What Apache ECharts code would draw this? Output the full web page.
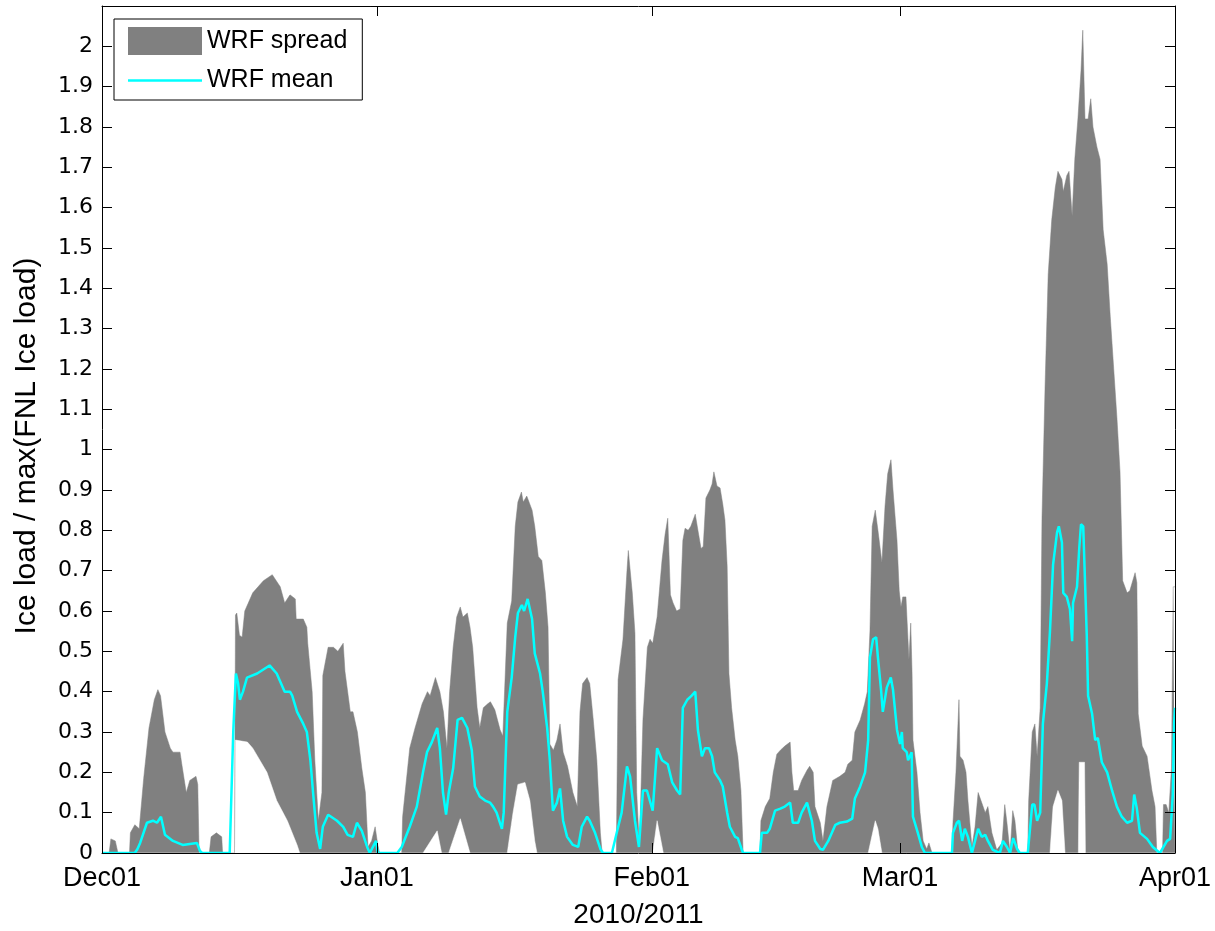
<!DOCTYPE html>
<html>
<head>
<meta charset="utf-8">
<title>WRF ice load</title>
<script src="https://cdn.jsdelivr.net/npm/echarts@6/dist/echarts.min.js"></script>
<style>
  html, body { margin: 0; padding: 0; background: #fff; }
  #chart { width: 1215px; height: 931px; }
</style>
</head>
<body>
<div id="chart"></div>
<script>
// x = days since Dec01 2010
const tickDays = [0, 31, 62, 90, 121];
const tickLabels = ['Dec01', 'Jan01', 'Feb01', 'Mar01', 'Apr01'];

// upper edge of the WRF spread
const hiDays = [0, 0.8, 1.0, 1.5, 1.8, 3.1, 3.2, 3.7, 4.2, 4.7, 5.3, 5.9, 6.3, 6.6, 7.1, 7.7, 8.0, 8.8, 9.0, 9.5, 9.9, 10.6, 10.8, 10.95,
  12.1, 12.3, 12.9, 13.5, 13.6, 14.95, 15.05, 15.2, 15.5, 15.8, 16.1, 17.0, 18.2, 19.2, 20.1, 20.6, 21.2, 21.8, 21.9, 22.7, 23.1, 23.2, 23.7, 24.0, 24.4, 24.8,
  24.9, 25.5, 26.1, 26.6, 27.2, 27.4, 28.0, 28.3, 28.8, 29.3, 29.7, 30.0, 30.4, 30.8, 31.1, 31.3,
  33.8, 33.9, 34.7, 35.3, 36.1, 36.7, 37.0, 37.6, 38.1, 38.5, 38.9, 39.2, 39.6, 40.0, 40.4, 40.7, 41.2, 41.5, 41.8, 42.3, 42.6, 43.0, 43.5, 43.8,
  44.3, 44.9, 45.2, 45.7, 46.2, 46.6, 46.9, 47.3, 47.5, 47.9, 48.5, 48.8, 49.2, 49.6, 50.0, 50.3, 50.5, 50.9, 51.3, 51.65, 52.0, 52.5, 53.1, 53.6,
  53.9, 54.2, 54.7, 55.0, 55.4, 55.8, 56.2, 56.4, 58.0, 58.2, 58.75, 59.2, 59.35, 59.8, 60.1, 60.3, 60.6, 61.0, 61.5, 61.8, 62.1, 62.6, 63.15, 63.5,
  63.8, 64.1, 64.4, 64.8, 65.2, 65.5, 65.75, 66.1, 66.4, 66.9, 67.2, 67.55, 67.8, 68.1, 68.55, 68.8, 69.0, 69.35, 69.7, 70.0, 70.25, 70.5, 70.7,
  71.0, 71.4, 71.7, 72.05, 72.3, 74.2, 74.3, 74.8, 75.3, 75.7, 76.1, 76.5, 77.0, 77.6, 77.8, 78.0, 78.5, 78.9, 79.5, 79.8, 80.2, 80.4, 81.0, 81.3,
  81.75, 82.4, 83.2, 83.8, 84.1, 84.6, 84.9, 85.5, 86.0, 86.3, 86.6, 86.85, 87.2, 87.5, 87.95, 88.3, 88.6, 88.97, 89.2, 89.65, 89.9, 90.1, 90.3,
  90.66, 90.8, 91.0, 91.2, 91.35, 91.45, 91.9, 92.25, 92.6, 93.0, 93.25, 93.6, 95.85, 95.96, 96.3, 96.64, 96.75, 97.1, 97.43, 97.65, 98.1, 98.45,
  98.8, 99.2, 99.6, 99.9, 100.35, 100.9, 101.5, 101.8, 102.05, 102.4, 102.7, 102.95, 103.3, 104.4, 104.5, 104.9, 105.2, 105.45, 105.8, 106.0,
  106.35, 106.7, 107.1, 107.5, 107.8, 108.25, 108.4, 108.8, 109.05, 109.4, 109.7, 110.05, 110.4, 110.6, 110.85, 111.2, 111.5, 111.75, 112.2,
  112.55, 112.9, 113.35, 113.7, 114.0, 114.45, 114.8, 115.1, 115.6, 115.9, 116.5, 116.7, 116.85, 117.3, 117.85, 118.4, 118.75, 118.95, 119.6,
  119.7, 120.0, 120.3, 120.6, 120.8, 121];
const hiVals = [0, 0, 0.035, 0.03, 0, 0, 0.05, 0.07, 0.06, 0.185, 0.31, 0.38, 0.405, 0.39, 0.30, 0.26, 0.25, 0.25, 0.22, 0.15, 0.18, 0.19, 0.17, 0,
  0, 0.04, 0.05, 0.04, 0, 0, 0.59, 0.595, 0.54, 0.535, 0.60, 0.645, 0.675, 0.69, 0.66, 0.62, 0.64, 0.63, 0.58, 0.58, 0.56, 0.52, 0.40, 0.23, 0.08, 0.15,
  0.44, 0.51, 0.51, 0.50, 0.52, 0.45, 0.35, 0.35, 0.30, 0.21, 0.15, 0.015, 0.03, 0.065, 0.02, 0,
  0, 0.09, 0.26, 0.31, 0.37, 0.40, 0.39, 0.435, 0.40, 0.35, 0.26, 0.40, 0.51, 0.585, 0.61, 0.585, 0.595, 0.56, 0.51, 0.36, 0.31, 0.36, 0.37, 0.375,
  0.355, 0.305, 0.29, 0.57, 0.625, 0.81, 0.87, 0.895, 0.87, 0.885, 0.85, 0.81, 0.735, 0.725, 0.645, 0.56, 0.27, 0.255, 0.28, 0.32, 0.25, 0.215, 0.15, 0.115,
  0.35, 0.42, 0.435, 0.42, 0.33, 0.23, 0.05, 0, 0, 0.43, 0.53, 0.70, 0.75, 0.645, 0.545, 0.15, 0.015, 0.33, 0.51, 0.53, 0.52, 0.585, 0.725, 0.79,
  0.83, 0.64, 0.62, 0.60, 0.605, 0.775, 0.805, 0.80, 0.81, 0.84, 0.80, 0.755, 0.76, 0.88, 0.90, 0.915, 0.945, 0.91, 0.905, 0.865, 0.825, 0.71, 0.445,
  0.36, 0.28, 0.24, 0.155, 0, 0, 0.08, 0.115, 0.135, 0.20, 0.245, 0.255, 0.265, 0.275, 0.20, 0.155, 0.155, 0.18, 0.205, 0.215, 0.20, 0.115, 0.075, 0.03,
  0.115, 0.18, 0.19, 0.20, 0.22, 0.23, 0.30, 0.33, 0.37, 0.40, 0.55, 0.81, 0.85, 0.80, 0.72, 0.86, 0.94, 0.975, 0.90, 0.775, 0.65, 0.61, 0.635,
  0.635, 0.57, 0.48, 0.57, 0.445, 0.28, 0.20, 0.10, 0.03, 0.01, 0.025, 0, 0, 0.075, 0.20, 0.38, 0.24, 0.23, 0.20, 0.13, 0.015, 0.065,
  0.15, 0.125, 0.10, 0.115, 0.05, 0.008, 0.025, 0.12, 0.075, 0, 0.105, 0.08, 0, 0, 0.13, 0.30, 0.32, 0.24, 0.36, 0.83,
  1.16, 1.435, 1.57, 1.65, 1.69, 1.67, 1.64, 1.68, 1.69, 1.58, 1.72, 1.82, 1.94, 2.04, 1.82, 1.82, 1.87, 1.80, 1.75,
  1.72, 1.545, 1.46, 1.33, 1.23, 1.08, 0.945, 0.675, 0.645, 0.65, 0.695, 0.67, 0.345, 0.265, 0.24, 0.155, 0.115, 0, 0,
  0.12, 0.12, 0.10, 0.21, 0.66, 0.66];

// lower edge of the WRF spread (zero almost everywhere)
const loDays = [0, 15.0, 15.05, 16.4, 17.0, 18.6, 19.7, 20.9, 22.0, 22.3, 36.2, 37.8, 38.3, 39.1, 40.4, 41.5, 45.7, 46.35, 46.9, 47.7, 48.25,
  48.8, 49.05, 62.1, 62.6, 63.3, 86.4, 87.2, 87.5, 87.95, 106.9, 107.25, 107.8, 108.25, 108.6, 110.1, 110.2, 110.8, 110.9, 121];
const loVals = [0, 0, 0.28, 0.275, 0.26, 0.20, 0.13, 0.08, 0.02, 0, 0, 0.055, 0, 0, 0.085, 0, 0, 0.10, 0.17, 0.175, 0.13,
  0.03, 0, 0, 0.08, 0, 0, 0.08, 0.06, 0, 0, 0.115, 0.155, 0.13, 0, 0, 0.225, 0.225, 0, 0];

// WRF ensemble mean
const meanDays = [0, 3.7, 4.0, 4.3, 5.07, 5.75, 6.2, 6.65, 7.1, 8.0, 9.1, 10.7, 11.05, 11.3, 14.4, 14.8, 15.1, 15.35, 15.55, 15.9, 16.35, 17.5,
  18.2, 18.9, 19.7, 20.6, 21.2, 21.45, 22.0, 22.7, 23.1, 23.5, 23.8, 24.2, 24.6, 24.9, 25.5, 26.5, 27.2, 27.7, 28.3, 28.75, 29.3, 29.9, 30.2,
  30.9, 31.1, 33.3, 33.8, 34.7, 35.5, 36.2, 36.65, 37.2, 37.8, 38.1, 38.45, 38.8, 39.1, 39.6, 40.1, 40.6, 41.2, 41.7, 42.05, 42.6, 43.2, 43.75,
  44.1, 44.5, 45.1, 45.3, 45.7, 46.2, 46.6, 46.9, 47.35, 47.6, 48.0, 48.5, 48.8, 49.4, 49.7, 50.2, 50.5, 50.85, 51.3, 51.65, 52.0, 52.45, 53.1,
  53.7, 54.1, 54.7, 55.0, 55.6, 56.2, 56.5, 57.5, 58.1, 58.6, 59.2, 59.55, 60.1, 60.55, 61.0, 61.45, 62.1, 62.6, 63.15, 63.8, 64.3, 64.85, 65.2,
  65.5, 66.0, 66.5, 66.9, 67.2, 67.65, 68.0, 68.45, 68.8, 69.1, 69.7, 70.0, 70.5, 70.8, 71.4, 71.7, 72.15, 72.3, 74.2, 74.4, 75.0, 75.3, 75.9,
  76.5, 77.0, 77.6, 77.9, 78.5, 78.9, 79.5, 80.05, 80.4, 81.0, 81.3, 81.9, 82.7, 83.2, 84.0, 84.6, 84.9, 85.5, 86.05, 86.4, 86.6, 86.95, 87.3,
  87.5, 87.85, 88.05, 88.5, 88.95, 89.2, 89.65, 90.0, 90.2, 90.3, 90.75, 90.9, 91.3, 91.45, 92.0, 92.45, 92.8, 95.85, 95.96, 96.4, 96.65, 97.0,
  97.3, 97.65, 98.1, 98.45, 98.8, 99.2, 99.6, 99.9, 100.45, 101.25, 101.6, 102.05, 102.4, 102.75, 103.2, 103.5, 104.4, 104.9, 105.15, 105.45,
  105.8, 106.1, 106.55, 106.9, 107.25, 107.7, 107.9, 108.25, 108.4, 108.8, 109.15, 109.4, 109.5, 109.95, 110.2, 110.4, 110.65, 110.85, 111.05,
  111.2, 111.65, 112.0, 112.3, 112.75, 113.35, 113.9, 114.45, 115.0, 115.6, 116.15, 116.4, 116.7, 117.05, 117.85, 118.5, 119.3, 120.1, 120.45,
  120.75, 120.9, 121];
const meanVals = [0, 0, 0.01, 0.025, 0.075, 0.08, 0.075, 0.09, 0.045, 0.03, 0.02, 0.025, 0.005, 0, 0, 0.30, 0.445, 0.42, 0.38, 0.40, 0.435, 0.445,
  0.455, 0.465, 0.445, 0.40, 0.40, 0.39, 0.35, 0.32, 0.30, 0.23, 0.15, 0.05, 0.01, 0.065, 0.095, 0.08, 0.065, 0.045, 0.04, 0.075, 0.055, 0.015, 0,
  0.03, 0, 0, 0.015, 0.065, 0.115, 0.20, 0.25, 0.275, 0.31, 0.26, 0.15, 0.095, 0.15, 0.21, 0.33, 0.335, 0.31, 0.255, 0.165, 0.14, 0.13, 0.125,
  0.115, 0.10, 0.06, 0.10, 0.35, 0.435, 0.535, 0.595, 0.615, 0.60, 0.63, 0.58, 0.495, 0.445, 0.40, 0.31, 0.23, 0.105, 0.125, 0.16, 0.08, 0.04, 0.02,
  0.015, 0.065, 0.09, 0.08, 0.05, 0.01, 0, 0, 0.055, 0.10, 0.215, 0.19, 0.08, 0.015, 0.155, 0.155, 0.105, 0.26, 0.23, 0.22, 0.175, 0.155, 0.145,
  0.36, 0.38, 0.39, 0.40, 0.305, 0.24, 0.26, 0.26, 0.24, 0.20, 0.18, 0.165, 0.10, 0.065, 0.04, 0.037, 0.008, 0, 0, 0.05, 0.05, 0.06, 0.105,
  0.11, 0.115, 0.125, 0.075, 0.075, 0.10, 0.125, 0.08, 0.03, 0.01, 0.008, 0.03, 0.07, 0.075, 0.078, 0.085, 0.135, 0.165, 0.20, 0.28, 0.485, 0.53, 0.535,
  0.485, 0.405, 0.35, 0.41, 0.435, 0.405, 0.305, 0.27, 0.30, 0.26, 0.25, 0.23, 0.25, 0.09, 0.05, 0.015, 0, 0, 0.05, 0.075, 0.08, 0.03,
  0.06, 0.04, 0, 0.03, 0.06, 0.04, 0.045, 0.03, 0.008, 0, 0.03, 0.015, 0, 0.037, 0.01, 0, 0, 0.12, 0.12, 0.08,
  0.10, 0.32, 0.42, 0.55, 0.715, 0.795, 0.81, 0.77, 0.645, 0.635, 0.605, 0.525, 0.62, 0.66, 0.755, 0.815, 0.81, 0.675, 0.54,
  0.39, 0.345, 0.28, 0.285, 0.225, 0.20, 0.155, 0.115, 0.09, 0.075, 0.08, 0.145, 0.11, 0.05, 0.035, 0.015, 0, 0.03, 0.035,
  0.145, 0.32, 0.36];

function zip(xs, ys) {
    return xs.map((x, i) => [x, ys[i]]);
}

const tickFont = 'DejaVu Sans';
const labelFont = 'Liberation Sans';

// box axes: ticks point into the plot, lines stay on the frame
const xBase = {
    type: 'value',
    min: 0,
    max: 121,
    axisLine: { onZero: false, lineStyle: { color: '#000', width: 1 } },
    axisTick: { inside: true, length: 10, customValues: tickDays, lineStyle: { color: '#000' } },
    splitLine: { show: false },
    z: 10
};
const yBase = {
    type: 'value',
    min: 0,
    max: 2.1,
    interval: 0.1,
    axisLine: { show: true, onZero: false, lineStyle: { color: '#000', width: 1 } },
    axisTick: { show: true, inside: true, length: 10, lineStyle: { color: '#000' } },
    splitLine: { show: false },
    z: 10
};

const chart = echarts.init(document.getElementById('chart'));
chart.setOption({
    animation: false,
    backgroundColor: '#fff',
    grid: { left: 102, right: 40, top: 6, bottom: 78, containLabel: false, outerBoundsMode: 'none' },
    legend: {
        left: 114,
        top: 19,
        orient: 'vertical',
        padding: [8, 15, 7, 14],
        itemWidth: 74,
        itemHeight: 28,
        itemGap: 13,
        backgroundColor: '#fff',
        borderColor: '#000',
        borderWidth: 1,
        selectedMode: false,
        textStyle: { fontSize: 25, fontFamily: labelFont, color: '#000' },
        data: [
            { name: 'WRF spread', icon: 'rect' },
            { name: 'WRF mean', icon: 'path://M0,0L74,0L74,2.5L0,2.5Z', itemStyle: { color: '#00ffff' } }
        ],
        z: 20
    },
    graphic: [{
        type: 'text',
        x: 27,
        y: 446,
        rotation: Math.PI / 2,
        style: {
            text: 'Ice load / max(FNL Ice load)',
            fontSize: 30,
            fontFamily: labelFont,
            fill: '#000',
            align: 'center',
            verticalAlign: 'middle'
        },
        z: 30
    }],
    xAxis: [
        Object.assign({}, xBase, {
            position: 'bottom',
            name: '2010/2011',
            nameLocation: 'middle',
            nameGap: 48,
            nameTextStyle: { fontSize: 28, fontFamily: labelFont, color: '#000' },
            axisLabel: {
                customValues: tickDays,
                margin: 12,
                fontSize: 27,
                fontFamily: labelFont,
                color: '#000',
                formatter: v => tickLabels[tickDays.indexOf(v)]
            }
        }),
        Object.assign({}, xBase, { position: 'top', axisLabel: { show: false } })
    ],
    yAxis: [
        Object.assign({}, yBase, {
            position: 'left',
            axisLabel: { margin: 9, fontSize: 22, fontFamily: tickFont, color: '#000', showMaxLabel: false }
        }),
        Object.assign({}, yBase, { position: 'right', axisLabel: { show: false } })
    ],
    series: [
        {
            name: 'WRF spread',
            type: 'line',
            data: zip(hiDays, hiVals),
            symbol: 'none',
            color: '#808080',
            lineStyle: { width: 0.5, color: '#808080' },
            areaStyle: { color: '#808080', opacity: 1 },
            z: 2
        },
        {
            name: 'lower',
            type: 'line',
            data: zip(loDays, loVals),
            symbol: 'none',
            color: '#fff',
            lineStyle: { width: 0.5, color: '#fff' },
            areaStyle: { color: '#fff', opacity: 1 },
            z: 3
        },
        {
            name: 'WRF mean',
            type: 'line',
            data: zip(meanDays, meanVals),
            symbol: 'none',
            color: '#00ffff',
            lineStyle: { width: 2.5, color: '#00ffff' },
            z: 4
        }
    ]
});
</script>
</body>
</html>
